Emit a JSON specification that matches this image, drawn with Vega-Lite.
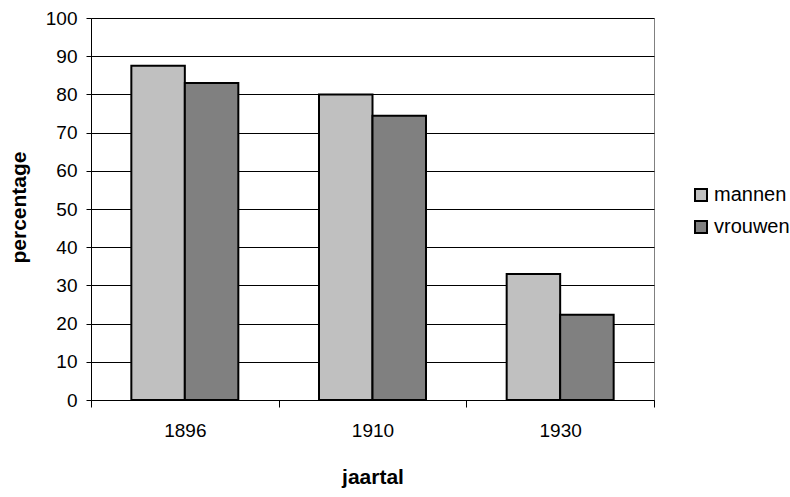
{
  "$schema": "https://vega.github.io/schema/vega-lite/v6.json",
  "width": 563,
  "height": 382,
  "autosize": {"type": "none"},
  "padding": {"left": 91, "top": 18, "right": 136, "bottom": 97},
  "background": "white",
  "config": {
    "view": {"stroke": "#808080", "strokeWidth": 1},
    "font": "Liberation Sans"
  },
  "data": {
    "values": [
      {"jaartal": "1896", "geslacht": "mannen", "percentage": 87.5},
      {"jaartal": "1896", "geslacht": "vrouwen", "percentage": 83},
      {"jaartal": "1910", "geslacht": "mannen", "percentage": 80},
      {"jaartal": "1910", "geslacht": "vrouwen", "percentage": 74.4},
      {"jaartal": "1930", "geslacht": "mannen", "percentage": 33},
      {"jaartal": "1930", "geslacht": "vrouwen", "percentage": 22.3}
    ]
  },
  "mark": {"type": "bar", "stroke": "black", "strokeWidth": 2},
  "encoding": {
    "x": {
      "field": "jaartal",
      "type": "nominal",
      "scale": {"paddingInner": 0, "paddingOuter": 0},
      "axis": {
        "title": "jaartal",
        "labelAngle": 0,
        "tickBand": "extent",
        "tickSize": 7,
        "tickColor": "black",
        "domainColor": "black",
        "labelFontSize": 19,
        "labelColor": "black",
        "labelPadding": 14,
        "titleFontSize": 21,
        "titleFontWeight": "bold",
        "titleColor": "black",
        "titleY": 83,
        "titleBaseline": "alphabetic",
        "grid": false
      }
    },
    "xOffset": {
      "field": "geslacht",
      "type": "nominal",
      "sort": ["mannen", "vrouwen"],
      "scale": {"paddingInner": 0, "paddingOuter": 0.754}
    },
    "y": {
      "field": "percentage",
      "type": "quantitative",
      "scale": {"domain": [0, 100], "nice": false},
      "axis": {
        "title": "percentage",
        "values": [0, 10, 20, 30, 40, 50, 60, 70, 80, 90, 100],
        "grid": true,
        "gridColor": "black",
        "gridOpacity": 1,
        "tickColor": "black",
        "tickSize": 5,
        "domainColor": "black",
        "labelFontSize": 19,
        "labelColor": "black",
        "labelPadding": 9,
        "titleFontSize": 21,
        "titleFontWeight": "bold",
        "titleColor": "black",
        "titleX": -66,
        "titleY": 189,
        "titleBaseline": "alphabetic"
      }
    },
    "color": {
      "field": "geslacht",
      "type": "nominal",
      "scale": {"domain": ["mannen", "vrouwen"], "range": ["#C0C0C0", "#808080"]},
      "legend": {
        "title": null,
        "orient": "none",
        "legendX": 600,
        "legendY": 167,
        "padding": 0,
        "symbolType": "square",
        "symbolSize": 144,
        "symbolStrokeColor": "black",
        "symbolStrokeWidth": 2,
        "symbolOpacity": 1,
        "labelFontSize": 20,
        "labelColor": "black",
        "labelOffset": 3,
        "rowPadding": 12
      }
    }
  }
}
